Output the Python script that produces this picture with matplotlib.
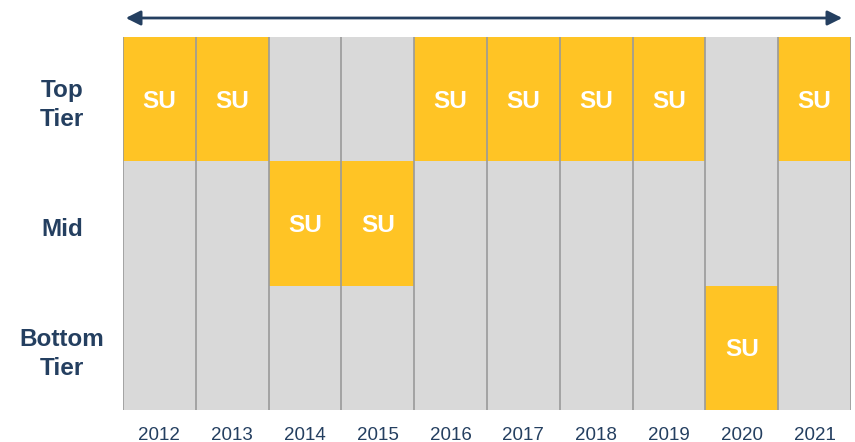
import matplotlib.pyplot as plt
import matplotlib.transforms as mtransforms
from matplotlib.patches import FancyArrowPatch

plt.rcParams['font.family'] = ['Liberation Sans', 'DejaVu Sans']

# Data
years = ['2012', '2013', '2014', '2015', '2016', '2017', '2018', '2019', '2020', '2021']
tiers = ['Top\nTier', 'Mid', 'Bottom\nTier']
# tier index of the "SU" cell for each year (0 = top, 1 = mid, 2 = bottom)
su_tier = [0, 0, 1, 1, 0, 0, 0, 0, 2, 0]
cell_label = 'SU'

yellow = '#FFC425'
grey = '#D9D9D9'
navy = '#243F60'

fig = plt.figure(figsize=(8.55, 4.42), dpi=100)
ax = fig.add_axes([123/855, 32/442, 728/855, 373/442])

n_rows = len(tiers)
x = range(len(years))

# grey column backgrounds
ax.bar(x, [n_rows] * len(years), width=1.0, bottom=0, color=grey, align='edge', linewidth=0)
# yellow SU cells (row 0 is at the top)
bottoms = [n_rows - 1 - t for t in su_tier]
ax.bar(x, [1] * len(years), width=1.0, bottom=bottoms, color=yellow, align='edge', linewidth=0)
su_shift = mtransforms.ScaledTranslation(0, -2/100, fig.dpi_scale_trans)
for i, b in enumerate(bottoms):
    ax.text(i + 0.5, b + 0.5, cell_label, ha='center', va='center',
            color='white', fontsize=17.5, fontweight='bold',
            transform=ax.transData + su_shift)

# column separators
for i in range(len(years) + 1):
    ax.axvline(i, color='#9A9A9A', linewidth=1.2)

ax.set_xlim(0, len(years))
ax.set_ylim(0, n_rows)
for s in ax.spines.values():
    s.set_visible(False)

ax.set_xticks([i + 0.5 for i in x])
ax.set_xticklabels(years, fontsize=13.5, color=navy)
ax.tick_params(axis='x', length=0, pad=12)

# row labels, centred in the left margin, slightly below the row centre
offset = mtransforms.ScaledTranslation(-61/100, -6/100, fig.dpi_scale_trans)
for r, lab in enumerate(tiers):
    ax.text(0, n_rows - 0.5 - r, lab, ha='center', va='center',
            fontsize=17.5, fontweight='bold', color=navy, linespacing=1.3,
            transform=ax.transData + offset)
ax.set_yticks([])

# timeline arrow across the top
arrow = FancyArrowPatch((123/855, 424/442), (845/855, 424/442),
                        transform=fig.transFigure, arrowstyle='<|-|>',
                        mutation_scale=22, color=navy, linewidth=2)
fig.patches.append(arrow)

fig.savefig('out.png', dpi=100)
